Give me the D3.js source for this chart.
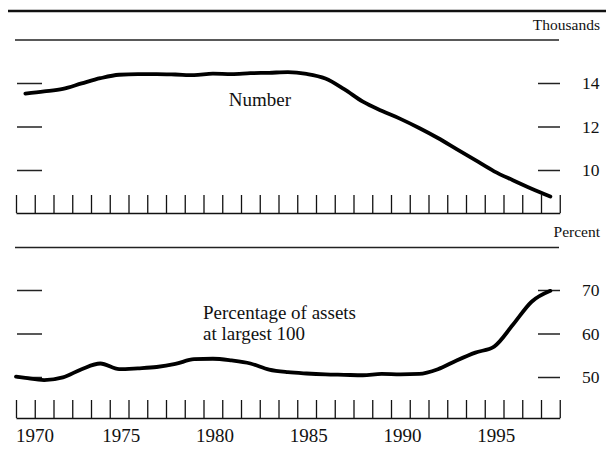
<!DOCTYPE html>
<html>
<head>
<meta charset="utf-8">
<script src="https://cdn.jsdelivr.net/npm/d3@7"></script>
<style>
  html, body { margin: 0; padding: 0; background: #fff; }
  svg { display: block; }
  text { font-family: "Liberation Serif", "Times New Roman", "DejaVu Serif", serif; fill: #111; }
</style>
</head>
<body>
<svg id="chart" width="606" height="451"></svg>
<script>
// ---------- data ----------
const years = d3.range(1970, 1999);              // 1970 .. 1998 (plotted at mid-year)
const bankNumber = [13.51, 13.61, 13.73, 13.98, 14.22, 14.38, 14.41, 14.41, 14.39, 14.36,
                    14.43, 14.41, 14.45, 14.47, 14.50, 14.42, 14.21, 13.72, 13.14, 12.72,
                    12.35, 11.93, 11.47, 10.96, 10.45, 9.94, 9.53, 9.14, 8.78];
const shareYears = [1970.0].concat(d3.range(1970.5, 1999, 1));
const shareLargest100 = [50.1, 49.8, 49.3, 49.9, 51.8, 53.1, 51.8, 52.0, 52.3, 53.0,
                         54.1, 54.2, 53.8, 53.1, 51.7, 51.1, 50.8, 50.6, 50.5, 50.4,
                         50.7, 50.6, 50.7, 51.8, 53.8, 55.6, 57.0, 62.0, 67.3, 69.8];
const yearTicks = d3.range(1970, 2000);          // year boundaries
const yearLabels = [1970, 1975, 1980, 1985, 1990, 1995];
const numberTicks = [10, 12, 14];
const shareTicks = [50, 60, 70];
const topUnit = "Thousands";
const bottomUnit = "Percent";
const topTitle = ["Number"];
const bottomTitle = ["Percentage of assets", "at largest 100"];

// ---------- layout ----------
const svg = d3.select("#chart");
const x = d3.scaleLinear().domain([1970, 1999]).range([16, 559.75]);
const yTop = d3.scaleLinear().domain([10, 14]).range([170, 83]);
const yBot = d3.scaleLinear().domain([50, 70]).range([377, 290]);

// top thick rule
svg.append("line").attr("x1", 8).attr("x2", 606).attr("y1", 11).attr("y2", 11)
  .attr("stroke", "#111").attr("stroke-width", 2.5);

function panel(cfg) {
  const g = svg.append("g");
  // unit label + thin rule
  g.append("text").attr("x", 600).attr("y", cfg.unitY).attr("text-anchor", "end")
    .style("font-size", "15.5px").text(cfg.unit);
  g.append("line").attr("x1", 15).attr("x2", 559).attr("y1", cfg.ruleY).attr("y2", cfg.ruleY)
    .attr("stroke", "#222").attr("stroke-width", 1.3);

  // left dashes
  const la = g.append("g").attr("transform", "translate(17,0)")
    .call(d3.axisRight(cfg.y).tickValues(cfg.ticks).tickSize(25).tickFormat(""));
  la.select(".domain").remove();
  la.selectAll("line").attr("stroke", "#222").attr("stroke-width", 1.5);

  // right dashes + labels
  const ra = g.append("g").attr("transform", "translate(538,0)")
    .call(d3.axisRight(cfg.y).tickValues(cfg.ticks).tickSize(22).tickPadding(22)
      .tickFormat(d3.format("d")));
  ra.select(".domain").remove();
  ra.selectAll("line").attr("stroke", "#222").attr("stroke-width", 1.5);
  ra.selectAll("text").style("font-size", "17.5px")
    .style("font-family", "'Liberation Serif', 'Times New Roman', serif").attr("fill", "#111");

  // year axis (ticks upward)
  const xa = g.append("g").attr("transform", `translate(0,${cfg.axisY})`)
    .call(d3.axisTop(x).tickValues(yearTicks).tickSizeInner(18).tickSizeOuter(0).tickFormat(""));
  xa.select(".domain").attr("stroke", "#111").attr("stroke-width", 1.5);
  xa.selectAll(".tick line").attr("stroke", "#111").attr("stroke-width", 1.3);

  // series line
  const line = d3.line().x((d, i) => x(cfg.xs[i])).y(d => cfg.y(d)).curve(d3.curveMonotoneX);
  g.append("path").datum(cfg.values).attr("d", line)
    .attr("fill", "none").attr("stroke", "#000").attr("stroke-width", 3.8)
    .attr("stroke-linecap", "round").attr("stroke-linejoin", "round");

  // annotation
  const t = g.append("text").attr("x", cfg.titleX).attr("y", cfg.titleY)
    .attr("text-anchor", cfg.titleAnchor).style("font-size", "19px");
  cfg.title.forEach((s, i) => {
    t.append("tspan").attr("x", cfg.titleX).attr("dy", i === 0 ? 0 : 21).text(s);
  });
  return g;
}

panel({
  unit: topUnit, unitY: 30, ruleY: 40, y: yTop, ticks: numberTicks, axisY: 213,
  xs: years.map(d => d + 0.5), values: bankNumber,
  title: topTitle, titleX: 260, titleY: 105.5, titleAnchor: "middle"
});
panel({
  unit: bottomUnit, unitY: 237, ruleY: 247.5, y: yBot, ticks: shareTicks, axisY: 418,
  xs: shareYears, values: shareLargest100,
  title: bottomTitle, titleX: 203, titleY: 318.5, titleAnchor: "start"
});

// year labels below the bottom axis
svg.append("g").selectAll("text").data(yearLabels).join("text")
  .attr("x", (d, i) => i === 0 ? x(d) : x(d + 0.5) + 2)
  .attr("y", 441.5)
  .attr("text-anchor", (d, i) => i === 0 ? "start" : "middle")
  .style("font-size", "19px")
  .text(d => d);
</script>
</body>
</html>
